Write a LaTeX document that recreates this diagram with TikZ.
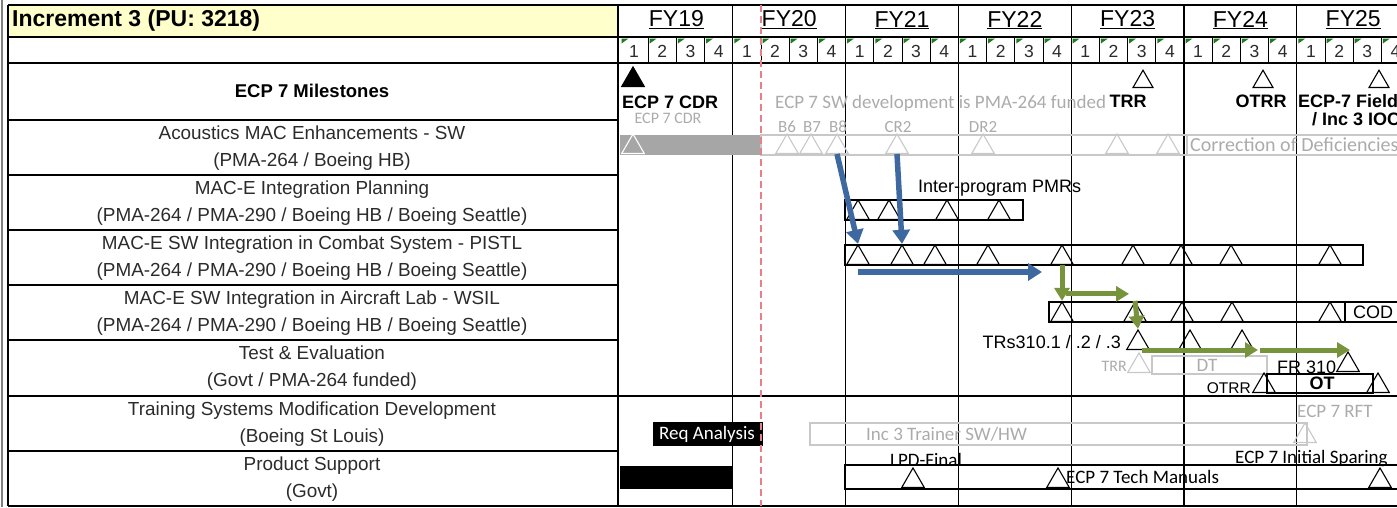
\documentclass[tikz,border=0pt]{standalone}
\usepackage{fontspec}
\setmainfont{Liberation Sans}
\newfontfamily\califont{Carlito}
\usepackage{tikz}
\usetikzlibrary{arrows.meta,shapes.geometric,positioning,calc}

\definecolor{hdryellow}{HTML}{FFFFCC}
\definecolor{arrowblue}{RGB}{61,104,160}
\definecolor{arrowgreen}{RGB}{119,147,60}
\definecolor{bargray}{HTML}{A6A6A6}
\definecolor{lightline}{HTML}{C8C8C8}
\definecolor{ghostgray}{HTML}{ABABAB}
\definecolor{todayred}{HTML}{E8808A}
\definecolor{notegreen}{HTML}{1E7B1E}
\definecolor{labelgray}{HTML}{2B2B2B}

\tikzset{
  rowlabel/.style = {align=center, text=labelgray, inner sep=0pt,
                     font=\fontsize{18.9}{27}\selectfont},
  boldtext/.style = {inner sep=0pt, font=\bfseries\fontsize{18}{20}\selectfont},
  plaintext/.style = {inner sep=0pt, font=\fontsize{18}{20}\selectfont},
  calitext/.style = {inner sep=0pt, font=\califont\fontsize{19}{20}\selectfont},
  graytext/.style = {calitext, text=ghostgray},
  taskbar/.style = {draw, line width=1.1pt},
  ghostbar/.style = {draw=lightline, line width=1.3pt},
  mstone/.style = {regular polygon, regular polygon sides=3, draw, line width=1.1pt,
                   minimum size=26pt, inner sep=0pt, anchor=south},
  ghoststone/.style = {mstone, draw=lightline},
  bluearrow/.style = {draw=arrowblue, line width=5.5pt, -{Triangle[length=14pt,width=17pt]}},
  greenarrow/.style = {draw=arrowgreen, line width=5pt, -{Triangle[length=13pt,width=15pt]}}
}

\begin{document}
\begin{tikzpicture}[x=1pt, y=-1pt]
  \useasboundingbox (0,0) rectangle (1397,507);
  \clip (0,0) rectangle (1397,507);

  % Grid
  \fill[hdryellow] (8,5) rectangle (617,37);
  \foreach \y in {5,37,63,120,175,230,285,340,396,506}
    \draw[line width=1.2pt] (8,\y) -- (617,\y);
  \draw[line width=2.4pt] (8,451) -- (617,451);
  \foreach \y in {5,37,396,506}
    \draw[line width=1.2pt] (617,\y) -- (1397,\y);
  \draw[line width=2pt] (617,63) -- (1397,63);
  \draw[gray, line width=2pt] (2,0) -- (2,507);
  \draw[line width=1.2pt] (8,5) -- (8,506);
  \draw[line width=2pt] (618,5) -- (618,506);
  \foreach \k in {1,...,6}
    \draw[line width=1.2pt] ({620+112.8*\k},5) -- ({620+112.8*\k},506);
  \foreach \q in {1,...,27}
    \draw[line width=1pt] ({620+28.2*\q},37) -- ({620+28.2*\q},63);
  \foreach \q in {0,...,27}
    \fill[notegreen] ({621.5+28.2*\q},38.5) -- ++(7,0) -- ++(-7,5) -- cycle;

  % Header
  \node[anchor=west, inner sep=0pt, font=\bfseries\fontsize{23}{25}\selectfont] (incr) at (12,21) {Increment 3 (PU: 3218)};
  \foreach \fy [count=\k from 0] in {19,...,25}
    \node[inner sep=0pt, font=\fontsize{23}{24}\selectfont] (fy\fy) at ({676.4+112.8*\k},20) {\underline{FY\fy}};
  \foreach \q in {0,...,27} {
    \pgfmathtruncatemacro\qn{mod(\q,4)+1}
    \node[inner sep=0pt, text=labelgray, font=\fontsize{17.5}{18}\selectfont] (q\q) at ({634.1+28.2*\q},51) {\qn};
  }

  % Row labels
  \node[boldtext, font=\bfseries\fontsize{18.5}{20}\selectfont] (milestones) at (312,91) {ECP 7 Milestones};
  \node[rowlabel] (lab-acou) at (312,148) {Acoustics MAC Enhancements - SW\\(PMA-264 / Boeing HB)};
  \node[rowlabel] (lab-plan) at (312,203) {MAC-E Integration Planning\\(PMA-264 / PMA-290 / Boeing HB / Boeing Seattle)};
  \node[rowlabel] (lab-pistl) at (312,258) {MAC-E SW Integration in Combat System - PISTL\\(PMA-264 / PMA-290 / Boeing HB / Boeing Seattle)};
  \node[rowlabel] (lab-wsil) at (312,313) {MAC-E SW Integration in Aircraft Lab - WSIL\\(PMA-264 / PMA-290 / Boeing HB / Boeing Seattle)};
  \node[rowlabel] (lab-te) at (312,368) {Test \& Evaluation\\(Govt / PMA-264 funded)};
  \node[rowlabel] (lab-trn) at (312,424) {Training Systems Modification Development\\(Boeing St Louis)};
  \node[rowlabel] (lab-ps) at (312,479) {Product Support\\(Govt)};

  % Milestones
  \node[mstone, fill=black] (ms-cdr) at (633,87) {};
  \node[boldtext, anchor=west] (cdr) at (622,102) {ECP 7 CDR};
  \node[graytext, anchor=west] (swdev) at (775,103) {ECP 7 SW development is PMA-264 funded};
  \node[mstone, minimum size=23pt] (ms-trr) at (1143,88) {};
  \node[boldtext] (trr) at (1128,101) {TRR};
  \node[mstone, minimum size=23pt] (ms-otrr) at (1263,88) {};
  \node[boldtext] (otrr) at (1261,101) {OTRR};
  \node[mstone, minimum size=23pt] (ms-ioc) at (1379,88) {};
  \node[boldtext, anchor=west] (field) at (1298,101) {ECP-7 Field};
  \node[boldtext, anchor=west] (ioc) at (1312,119) {/ Inc 3 IOC};

  % Acoustics
  \fill[bargray] (620,135) rectangle (761,155);
  \draw[ghostbar] (761,135) rectangle (1187,155);
  \draw[ghostbar] (1187,135) rectangle (1410,155);
  \node[graytext, font=\califont\fontsize{16}{18}\selectfont] (cdr2) at (668,118) {ECP 7 CDR};
  \node[mstone, draw=white] (ac-0) at (633,154) {};
  \foreach \x [count=\i] in {787,811,837,897,983,1117,1168}
    \node[ghoststone] (ac-\i) at (\x,154) {};
  \foreach \x/\t in {787/B6,812/B7,838/B8,898/CR2,983/DR2}
    \node[graytext, font=\califont\fontsize{17}{18}\selectfont] (tag-\t) at (\x,127) {\t};
  \node[graytext, anchor=west, font=\califont\fontsize{20}{22}\selectfont] (cod-text) at (1190,145) {Correction of Deficiencies};

  % Planning
  \draw[taskbar] (845,200) rectangle (1023,220);
  \foreach \x [count=\i] in {858,889,947,999}
    \node[mstone] (pl-\i) at (\x,220) {};
  \node[plaintext, anchor=west] (pmrs) at (918,188) {Inter-program PMRs};

  % PISTL
  \draw[taskbar] (845,245) rectangle (1363,265);
  \foreach \x [count=\i] in {858,902,935,988,1062,1133,1181,1231,1330}
    \node[mstone] (pi-\i) at (\x,265) {};

  % WSIL
  \draw[taskbar] (1049,302) rectangle (1410,322);
  \draw[taskbar] (1345,302) -- (1345,322);
  \node[plaintext, anchor=west] (codws) at (1353,312) {COD};
  \foreach \x [count=\i] in {1062,1135,1182,1232,1330}
    \node[mstone] (ws-\i) at (\x,322) {};
  \node[plaintext, anchor=east] (trs) at (1121,342) {TRs310.1 / .2 / .3};

  % Test and evaluation
  \foreach \x [count=\i] in {1138,1190,1242}
    \node[mstone] (te-\i) at (\x,350) {};
  \draw[ghostbar] (1152,356) rectangle (1267,374);
  \node[mstone, draw=lightline] (te-trr) at (1139,373) {};
  \node[graytext, anchor=east, font=\califont\fontsize{16}{18}\selectfont] (trr2) at (1127,366) {TRR};
  \node[graytext] (dt) at (1207,365) {DT};
  \node[plaintext, anchor=west] (fr) at (1277,367) {FR 310};
  \node[mstone] (te-fr) at (1348,372) {};
  \draw[taskbar] (1267,374) rectangle (1373,393);
  \node[mstone] (te-otrr) at (1264,393) {};
  \node[mstone] (te-ot) at (1378,393) {};
  \node[plaintext, anchor=east, font=\fontsize{15.5}{17}\selectfont] (otrr2) at (1251,388) {OTRR};
  \node[boldtext] (ot) at (1322,383) {OT};

  % Training
  \fill (653,422) rectangle (763,446);
  \node[calitext, text=white] (req) at (707,434) {Req Analysis};
  \draw[ghostbar] (810,423) rectangle (1307,445);
  \node[graytext, anchor=west] (trainer) at (866,434) {Inc 3 Trainer SW/HW};
  \node[ghoststone] (tr-rft) at (1305,443) {};
  \node[graytext, anchor=west] (rft) at (1297,411) {ECP 7 RFT};

  % Product support
  \fill (620,466) rectangle (733,489);
  \draw[taskbar] (845,465) rectangle (1410,489);
  \foreach \x [count=\i] in {913,1058,1380}
    \node[mstone] (ps-\i) at (\x,488) {};
  \node[calitext] (lpd) at (926,460) {LPD-Final};
  \node[calitext, anchor=west] (manuals) at (1066,477) {ECP 7 Tech Manuals};
  \node[calitext, anchor=west] (sparing) at (1235,459) {ECP 7 Initial Sparing};

  % Arrows
  \draw[bluearrow] (ac-3.south) -- (pi-1.north);
  \draw[bluearrow] (ac-4.south) -- (pi-2.north);
  \draw[bluearrow] ($(pi-1.south)+(0,7)$) -- ($(pi-5.south)+(-20,7)$);
  \draw[greenarrow] (pi-5.south) -- (ws-1.north);
  \draw[greenarrow] ($(ws-1.north)+(4,-7)$) -- ($(ws-2.north)+(-6,-7)$);
  \draw[greenarrow] (ws-2.north) -- (te-1.north);
  \draw[greenarrow] ($(te-1.south)+(4,0)$) -- ($(te-3.south)+(16,0)$);
  \draw[greenarrow] ($(te-3.south)+(18,0)$) -- ($(te-fr.north |- te-3.south)+(2,0)$);

  % Today line
  \draw[todayred, line width=2pt, dash pattern=on 7pt off 4pt] (761,5) -- (761,506);
\end{tikzpicture}
\end{document}
